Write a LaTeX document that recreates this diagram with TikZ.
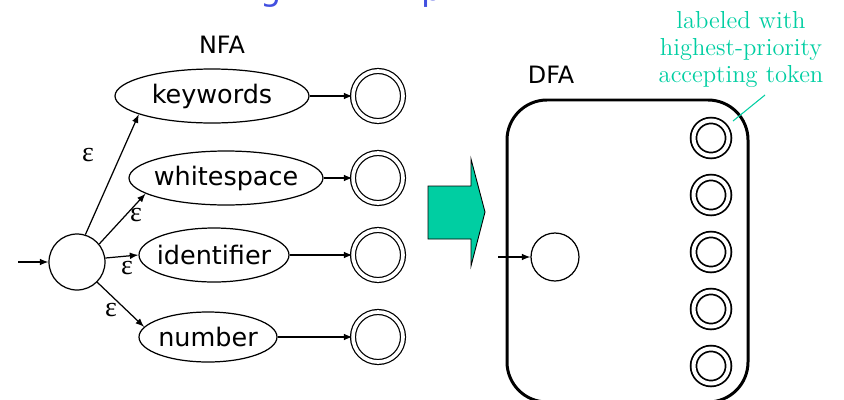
\documentclass[tikz,border=0pt]{standalone}
\usepackage{fontspec}
\usetikzlibrary{arrows,shapes.geometric}
\newfontfamily\sansfont{DejaVu Sans}
\newfontfamily\epsfont{Liberation Serif}
\definecolor{tokgreen}{RGB}{0,206,162}
\definecolor{titleblue}{RGB}{66,80,224}
\newcommand{\lw}{.7pt}

\tikzset{
  state/.style={draw, circle, line width=\lw, inner sep=0pt},
  accept/.style={state, double, double distance=.074cm},
  tokbox/.style={draw, ellipse, line width=\lw, inner xsep=-.2cm, inner ysep=0pt,
    font=\sansfont\fontsize{14.5}{17}\selectfont},
  eps/.style={font=\epsfont\fontsize{16}{18}\selectfont, inner sep=0pt},
  fatitle/.style={font=\sansfont\fontsize{13.6}{16}\selectfont, anchor=base},
  slidetitle/.style={text=titleblue, font=\sansfont\fontsize{19}{22}\selectfont,
    anchor=base west, inner sep=0pt},
}

\begin{document}
\begin{tikzpicture}[x=.02cm, y=-.02cm, >=latex]
  \useasboundingbox (0,0) rectangle (844,399);
  \clip (0,0) rectangle (844,399);

      %% what is left of the slide title
  \node[slidetitle] (tg) at (260,0) {g};
  \node[slidetitle] (tp) at (421,0) {p};

      %% NFA: one start state, epsilon moves to every token machine
  \node[fatitle] (nfa) at (222,53) {NFA};
  \node (s) at (77,262) [state, minimum size=1.12cm] {};
  \coordinate (in1) at (18,262);
  \node (kw) at (212,96)  [tokbox, minimum width=3.88cm, minimum height=1.08cm] {keywords};
  \node (ws) at (226,178) [tokbox, minimum width=3.88cm, minimum height=1.08cm] {whitespace};
  \node (id) at (214,255) [tokbox, minimum width=3cm, minimum height=1.08cm] {identifier};
  \node (nm) at (208,337) [tokbox, minimum width=2.76cm, minimum height=1cm] {number};
  \foreach \y/\n in {96/1,178/2,255/3,337/4}
  { \node (a\n) at (378,\y) [accept, minimum size=1cm] {};}

  \draw[->, line width=\lw] (in1) -- (s);
  \draw[->, line width=\lw] (s.73) -- (kw.194);
  \draw[->, line width=\lw] (s.39) -- (ws.191);
  \draw[->, line width=\lw] (s.8) -- (id.180);
  \draw[->, line width=\lw] (s.-45) -- (nm.171);
  \draw[->, line width=\lw] (kw) -- (a1);
  \draw[->, line width=\lw] (ws) -- (a2);
  \draw[->, line width=\lw] (id) -- (a3);
  \draw[->, line width=\lw] (nm) -- (a4);

  \node[eps] (e1) at (88,155) {ε};
  \node[eps] (e2) at (136,215) {ε};
  \node[eps] (e3) at (127,268) {ε};
  \node[eps] (e4) at (111,310) {ε};

      %% the big arrow
  \draw[fill=tokgreen, line width=.5pt] (428,186) -- (471,186) -- (471,159) --
  (485,212) -- (471,266) -- (471,239) -- (428,239) -- cycle;

      %% DFA
  \node[fatitle] (dfa) at (551,83) {DFA};
  \draw[line width=1.7pt, rounded corners=.8cm] (507,100) rectangle (748,402);
  \node (d0) at (555,257) [state, minimum size=.96cm] {};
  \coordinate (in2) at (498,257);
  \draw[->, line width=\lw] (in2) -- (d0);
  \foreach \j in {1,...,5}
  { \node (d\j) at (711,81+57*\j) [accept, line width=1pt, double distance=.08cm,
      minimum size=.7cm] {};}

  \node (note) at (741,11) [text=tokgreen, align=center, anchor=north, inner sep=0pt,
    font=\fontsize{14}{15.3}\selectfont] {labeled with\\highest-priority\\accepting token};
  \coordinate (p1) at (765,95);
  \coordinate (p2) at (733,121);
  \draw[tokgreen, line width=.6pt] (p1) -- (p2);

\end{tikzpicture}
\end{document}
